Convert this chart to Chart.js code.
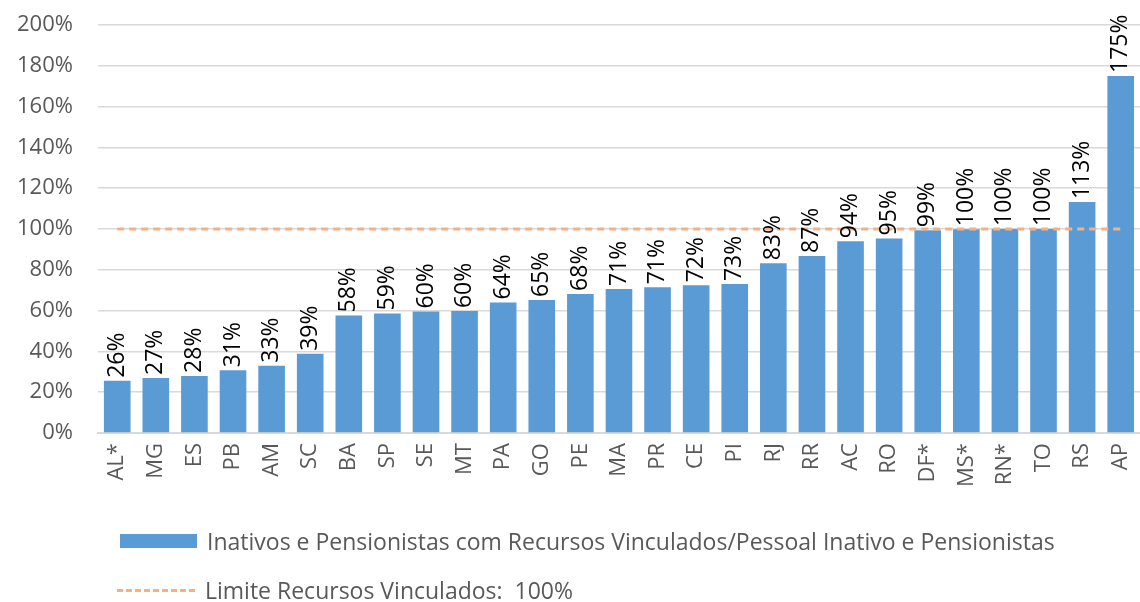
<!DOCTYPE html>
<html lang="pt">

<head>
  <meta charset="UTF-8">
  <title>Inativos e Pensionistas</title>
  <script src="https://cdn.jsdelivr.net/npm/chart.js@4.4.0/dist/chart.umd.min.js"></script>
  <style>
    html, body { margin: 0; padding: 0; background: #fff; }
    #wrap { position: relative; width: 1140px; height: 602px; overflow: hidden; }
    #legend { position: absolute; left: 0; top: 0; font-family: "Open Sans", sans-serif; font-size: 23px; color: #595959; }
    .item { position: absolute; white-space: pre; display: flex; align-items: center; }
    .swatch { display: inline-block; margin-right: 10px; }
  </style>
</head>

<body>
  <div id="wrap">
    <canvas id="chart" width="1140" height="602"></canvas>
    <div id="legend"></div>
  </div>

  <script>
    const states = ['AL*', 'MG', 'ES', 'PB', 'AM', 'SC', 'BA', 'SP', 'SE', 'MT', 'PA', 'GO', 'PE', 'MA',
      'PR', 'CE', 'PI', 'RJ', 'RR', 'AC', 'RO', 'DF*', 'MS*', 'RN*', 'TO', 'RS', 'AP'];
    const ratio = [25.6, 27.0, 28.0, 30.8, 33.0, 38.8, 57.6, 58.6, 59.6, 59.8, 64.0, 65.2, 68.2, 70.6,
      71.4, 72.4, 73.0, 83.2, 86.8, 94.0, 95.4, 99.4, 99.9, 100.0, 100.0, 113.2, 175.0];
    const limit = states.map(() => 100);
    const yTicks = [0, 20, 40, 60, 80, 100, 120, 140, 160, 180, 200];

    const barLabel = 'Inativos e Pensionistas com Recursos Vinculados/Pessoal Inativo e Pensionistas';
    const lineLabel = 'Limite Recursos Vinculados:  100%';

    const font = '"Open Sans", sans-serif';
    const clear = 'rgba(0,0,0,0)';

    // value labels written upward above each bar
    const valueLabels = {
      id: 'valueLabels',
      afterDatasetsDraw(chart) {
        const ctx = chart.ctx;
        const meta = chart.getDatasetMeta(1);
        ctx.save();
        ctx.font = '23px ' + font;
        ctx.fillStyle = '#000';
        ctx.textAlign = 'left';
        ctx.textBaseline = 'middle';
        meta.data.forEach((bar, i) => {
          ctx.save();
          ctx.translate(bar.x, bar.y - 3);
          ctx.rotate(-Math.PI / 2);
          ctx.fillText(Math.round(ratio[i]) + '%', 0, 0);
          ctx.restore();
        });
        ctx.restore();
      }
    };

    const chart = new Chart(document.getElementById('chart').getContext('2d'), {
      data: {
        labels: states,
        datasets: [{
          type: 'line',
          label: lineLabel,
          data: limit,
          borderColor: '#F4B183',
          borderWidth: 3,
          borderDash: [7, 5],
          pointRadius: 0,
          fill: false,
          order: 0
        }, {
          type: 'bar',
          label: barLabel,
          data: ratio,
          backgroundColor: '#5B9BD5',
          borderWidth: 0,
          barPercentage: 0.69,
          categoryPercentage: 1,
          order: 1
        }]
      },
      options: {
        responsive: false,
        animation: false,
        layout: { padding: { top: 25, left: 14, right: 0, bottom: 115 } },
        plugins: {
          legend: { display: false },
          tooltip: { enabled: false }
        },
        scales: {
          x: {
            // invisible tick marks give the gap without padding the right edge
            grid: { display: false, drawTicks: true, tickLength: 10, tickColor: clear },
            border: { display: true, color: '#d9d9d9', width: 2 },
            ticks: {
              color: '#595959',
              font: { family: font, size: 22, lineHeight: 0.8 },
              minRotation: 90,
              maxRotation: 90,
              padding: 0
            }
          },
          y: {
            min: 0,
            max: 200,
            afterBuildTicks: axis => { axis.ticks = yTicks.map(v => ({ value: v })); },
            grid: { color: '#d9d9d9', lineWidth: 1.5, drawTicks: true, tickLength: 22, tickColor: clear },
            border: { display: false },
            ticks: {
              color: '#595959',
              font: { family: font, size: 22 },
              padding: 3,
              callback: v => v + '%'
            }
          }
        }
      },
      plugins: [valueLabels]
    });

    // legend, left aligned in two rows like the original
    const legend = document.getElementById('legend');
    const rows = [
      { ds: chart.data.datasets[1], top: 525 },
      { ds: chart.data.datasets[0], top: 574 }
    ];
    rows.forEach(r => {
      const item = document.createElement('div');
      item.className = 'item';
      item.style.left = '117px';
      item.style.top = r.top + 'px';
      const sw = document.createElement('span');
      sw.className = 'swatch';
      if (r.ds.type === 'bar') {
        sw.style.width = '77px';
        sw.style.height = '14px';
        sw.style.marginLeft = '3px';
        sw.style.background = r.ds.backgroundColor;
      } else {
        sw.style.width = '78px';
        sw.style.height = '0';
        sw.style.borderTop = '3px dashed ' + r.ds.borderColor;
      }
      const txt = document.createElement('span');
      txt.textContent = r.ds.label;
      item.appendChild(sw);
      item.appendChild(txt);
      legend.appendChild(item);
    });
  </script>
</body>

</html>
